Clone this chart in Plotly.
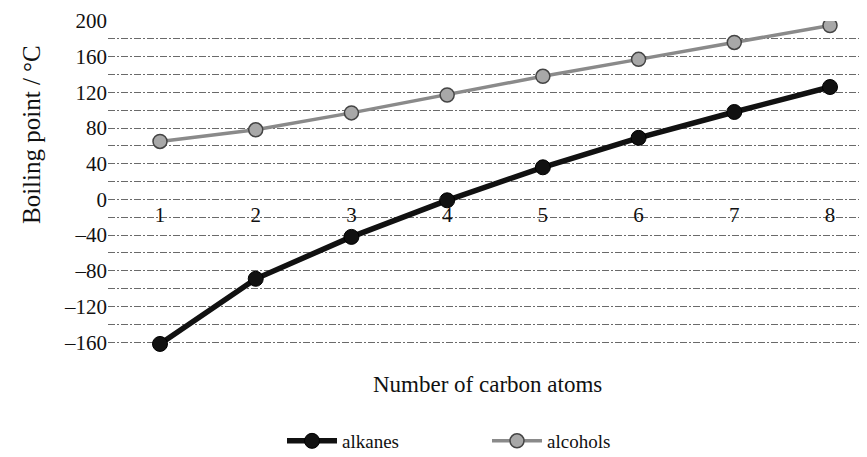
import plotly.graph_objects as go

carbon_atoms = [1, 2, 3, 4, 5, 6, 7, 8]
alkanes = [-162, -89, -42, -1, 36, 69, 98, 126]
alcohols = [65, 78, 97, 117, 138, 157, 176, 195]
y_ticks = list(range(-180, 201, 20))
y_labels = [str(v).replace("-", "\u2013") if v % 40 == 0 and v >= -160 else "" for v in y_ticks]

serif = "Liberation Serif, Times New Roman, serif"

# page has an 8px body margin; plot area in page px: x 108..875, y 21..360
L, T, PH, PW = 100, 13, 339, 767
B = 457 - T - PH

def py(page_y):
    return (360 - page_y) / PH

def px(page_x):
    return (page_x - 108) / PW

fig = go.Figure()
fig.add_trace(go.Scatter(
    x=carbon_atoms, y=alkanes, name="alkanes", mode="lines+markers",
    line=dict(color="#111111", width=5.5),
    marker=dict(size=15, color="#111111", line=dict(color="#000000", width=1)),
))
fig.add_trace(go.Scatter(
    x=carbon_atoms, y=alcohols, name="alcohols", mode="lines+markers",
    line=dict(color="#8a8a8a", width=3.5),
    marker=dict(size=14, color="#a8a8a8", line=dict(color="#444444", width=1.5)),
))

fig.update_layout(
    width=867, height=457,
    margin=dict(l=L, r=0, t=T, b=B),
    paper_bgcolor="white", plot_bgcolor="white",
    font=dict(family=serif, color="#111111", size=19),
    showlegend=True,
    legend=dict(orientation="h", x=px(282), xanchor="left", y=py(441), yanchor="middle",
                font=dict(size=19, family=serif), itemwidth=50, tracegroupgap=0,
                entrywidth=140),
    xaxis=dict(
        range=[0.4567, 8.470], tickvals=carbon_atoms, ticktext=[str(c) for c in carbon_atoms],
        showgrid=False, zeroline=False, showline=False, ticks="",
        anchor="free", position=py(200),
        tickfont=dict(size=21, family=serif),
    ),
    yaxis=dict(
        range=[-180, 200], tickvals=y_ticks, ticktext=y_labels,
        showgrid=True, gridcolor="#6a6a6a", gridwidth=1, griddash="7px,2px,2px,2px",
        zeroline=False, showline=False, ticks="",
        tickfont=dict(size=21, family=serif),
    ),
    annotations=[
        dict(text="Number of carbon atoms", x=px(487), xref="paper", y=py(384), yref="paper",
             yanchor="middle", showarrow=False, font=dict(size=23, family=serif)),
        dict(text="Boiling point / \u00b0C", x=px(32), xref="paper", y=py(135), yref="paper",
             xanchor="center", yanchor="middle", textangle=-90, showarrow=False,
             font=dict(size=25, family=serif)),
    ],
)

fig.write_html("out.html")
